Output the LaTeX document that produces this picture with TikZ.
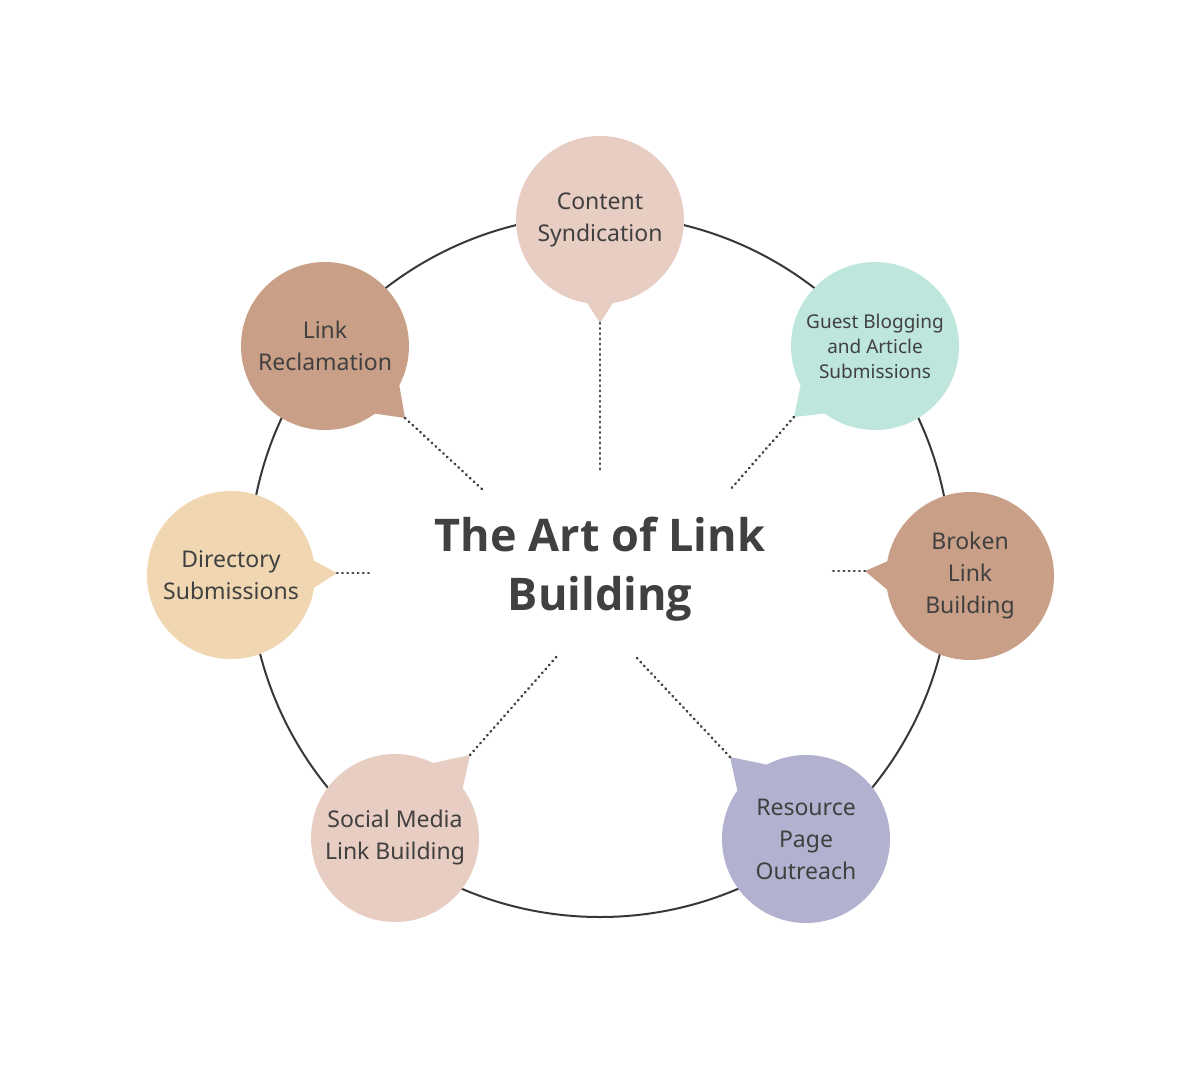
\documentclass[tikz,border=0pt]{standalone}
\usepackage{fontspec}
\setmainfont{Noto Sans}
\newfontfamily\titlefont{Open Sans}
\usetikzlibrary{calc}
\definecolor{cpink}{HTML}{E8CDC2}
\definecolor{cmint}{HTML}{BEE6DC}
\definecolor{ctan}{HTML}{C9A087}
\definecolor{clav}{HTML}{B2B1CF}
\definecolor{csand}{HTML}{F0D6B1}
\definecolor{ctext}{HTML}{404040}
\definecolor{cline}{HTML}{383838}
\begin{document}
\begin{tikzpicture}[x=1pt,y=-1pt,
  ring/.style={draw=cline,line width=2pt},
  bubble/.style={circle,minimum size=168pt,inner sep=0pt,align=center,text=ctext,font=\fontsize{23}{32}\selectfont},
  smallbubble/.style={bubble,font=\fontsize{19}{25}\selectfont},
  dots/.style={draw=ctext,line width=2.6pt,line cap=round,dash pattern=on 0.6pt off 4.6pt},
  title/.style={align=center,text=ctext,font=\titlefont\bfseries\fontsize{45}{59}\selectfont}]
\useasboundingbox (0,0) rectangle (1200,1080);
\fill[white] (0,0) rectangle (1200,1080);
\coordinate (O) at (600,566);
\draw[ring] (O) circle (351);
% bubbles
\node[bubble,fill=cpink] (cs) at (600,220) {Content\\Syndication};
\node[smallbubble,fill=cmint] (gb) at (875,346) {Guest Blogging\\and Article\\Submissions};
\node[bubble,fill=ctan] (bl) at (970,576) {Broken\\Link\\Building};
\node[bubble,fill=clav] (rp) at (806,839) {Resource\\Page\\Outreach};
\node[bubble,fill=cpink] (sm) at (395,838) {Social Media\\Link Building};
\node[bubble,fill=csand] (ds) at (231,575) {Directory\\Submissions};
\node[bubble,fill=ctan] (lr) at (325,346) {Link\\Reclamation};
% tail tips
\coordinate (cst) at (600,323);
\coordinate (gbt) at (794,417);
\coordinate (blt) at (865,571);
\coordinate (rpt) at (730,757);
\coordinate (smt) at (470,755);
\coordinate (dst) at (337,573);
\coordinate (lrt) at (405,418);
% tails
\fill[cpink] ($(cs)+(80:82)$) -- (cst) -- ($(cs)+(100:82)$) -- cycle;
\fill[cmint] ($(gb)+(125:82)$) -- (gbt) -- ($(gb)+(154:82)$) -- cycle;
\fill[ctan] ($(bl)+(169:82)$) -- (blt) -- ($(bl)+(191:82)$) -- cycle;
\fill[clav] ($(rp)+(214:82)$) -- (rpt) -- ($(rp)+(244:82)$) -- cycle;
\fill[cpink] ($(sm)+(295:82)$) -- (smt) -- ($(sm)+(325:82)$) -- cycle;
\fill[csand] ($(ds)+(-11:82)$) -- (dst) -- ($(ds)+(10:82)$) -- cycle;
\fill[ctan] ($(lr)+(26:82)$) -- (lrt) -- ($(lr)+(55:82)$) -- cycle;
% inner ends
\coordinate (csi) at (600,470);
\coordinate (gbi) at (729,491);
\coordinate (bli) at (833,571);
\coordinate (rpi) at (634,655);
\coordinate (smi) at (558,655);
\coordinate (dsi) at (370,573);
\coordinate (lri) at (483,490);
\draw[dots] (cst) -- (csi);
\draw[dots] (gbt) -- (gbi);
\draw[dots] (blt) -- (bli);
\draw[dots] (rpt) -- (rpi);
\draw[dots] (smt) -- (smi);
\draw[dots] (dst) -- (dsi);
\draw[dots] (lrt) -- (lri);
% title
\node[title] (t) at (600,569) {The Art of Link\\Building};
\end{tikzpicture}
\end{document}
